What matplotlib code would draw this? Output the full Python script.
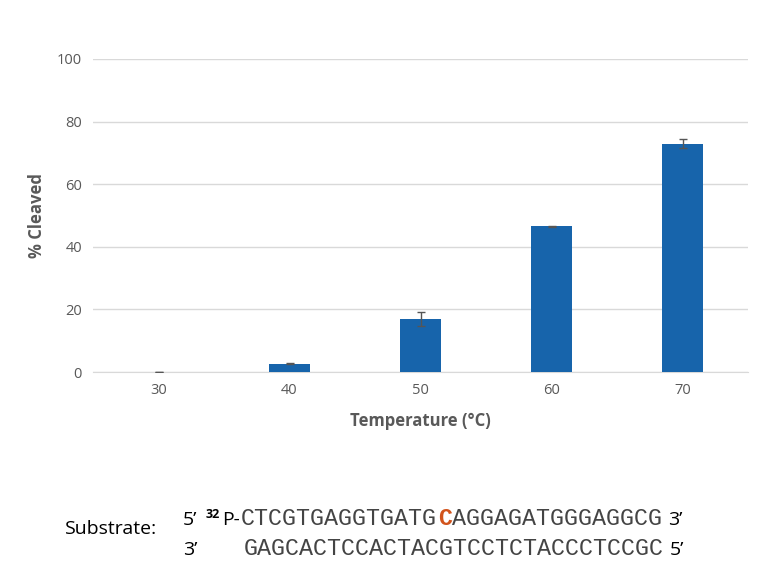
import matplotlib
matplotlib.use("Agg")
import matplotlib.pyplot as plt

temps = ["30", "40", "50", "60", "70"]
cleaved = [0.1, 2.7, 17.0, 46.5, 73.0]
errors = [0.0, 0.3, 2.2, 0.3, 1.3]
yticks = [0, 20, 40, 60, 80, 100]

W, H = 762, 572
fig = plt.figure(figsize=(W/100, H/100), dpi=100)
ax = fig.add_axes([93/W, 1-372/H, (748-93)/W, (372-59)/H])
x = range(len(temps))
ax.bar(x, cleaved, width=0.32, color="#1764ab", yerr=errors,
       error_kw=dict(ecolor="#555555", elinewidth=1, capsize=3, capthick=1), zorder=3)
ax.set_xlim(-0.5, len(temps)-0.5)
ax.set_ylim(0, 100)
ax.set_yticks(yticks)
ax.set_xticks(list(x))
ax.set_xticklabels(temps)
ax.grid(axis="y", color="#d9d9d9", lw=1, zorder=0)
for s in ["top", "right", "left"]:
    ax.spines[s].set_visible(False)
ax.spines["bottom"].set_color("#d9d9d9")
ax.tick_params(length=0, labelsize=10.5, labelcolor="#595959", pad=8)
for t in ax.get_xticklabels() + ax.get_yticklabels():
    t.set_fontfamily("Open Sans")
ax.set_xlabel("Temperature (\u00b0C)", fontsize=12, fontweight="bold", color="#595959",
              fontfamily="Open Sans", labelpad=10)
ax.set_ylabel("% Cleaved", fontsize=12, fontweight="bold", color="#595959",
              fontfamily="Open Sans", labelpad=8)

def ft(px, py, s, **kw):
    fig.text(px/W, 1-py/H, s, va="baseline", **kw)

sans = dict(fontfamily="Open Sans", fontsize=14, color="black")
mono = dict(fontfamily="Liberation Mono", fontsize=16.8, color="#444444")
ft(65, 534, "Substrate:", **sans)
ft(183, 525, "5\u2019", **sans)
ft(206, 518, "32", fontfamily="Open Sans", fontsize=9, fontweight="bold")
ft(222, 525, "P-", **sans)
cw = 14.07
x0 = 241
top1, top2 = "CTCGTGAGGTGATG", "AGGAGATGGGAGGCG"
ft(x0, 525, top1, **mono)
ft(x0+14*cw, 525, "C", fontfamily="Liberation Mono", fontsize=16.8, color="#d2541c", fontweight="bold")
ft(x0+15*cw, 525, top2, **mono)
ft(668, 525, "3\u2019", **sans)
ft(183, 555, "3\u2019", **sans)
ft(244, 555, "GAGCACTCCACTACGTCCTCTACCCTCCGC", **mono)
ft(670, 555, "5\u2019", **sans)

fig.savefig("out.png", dpi=100)
